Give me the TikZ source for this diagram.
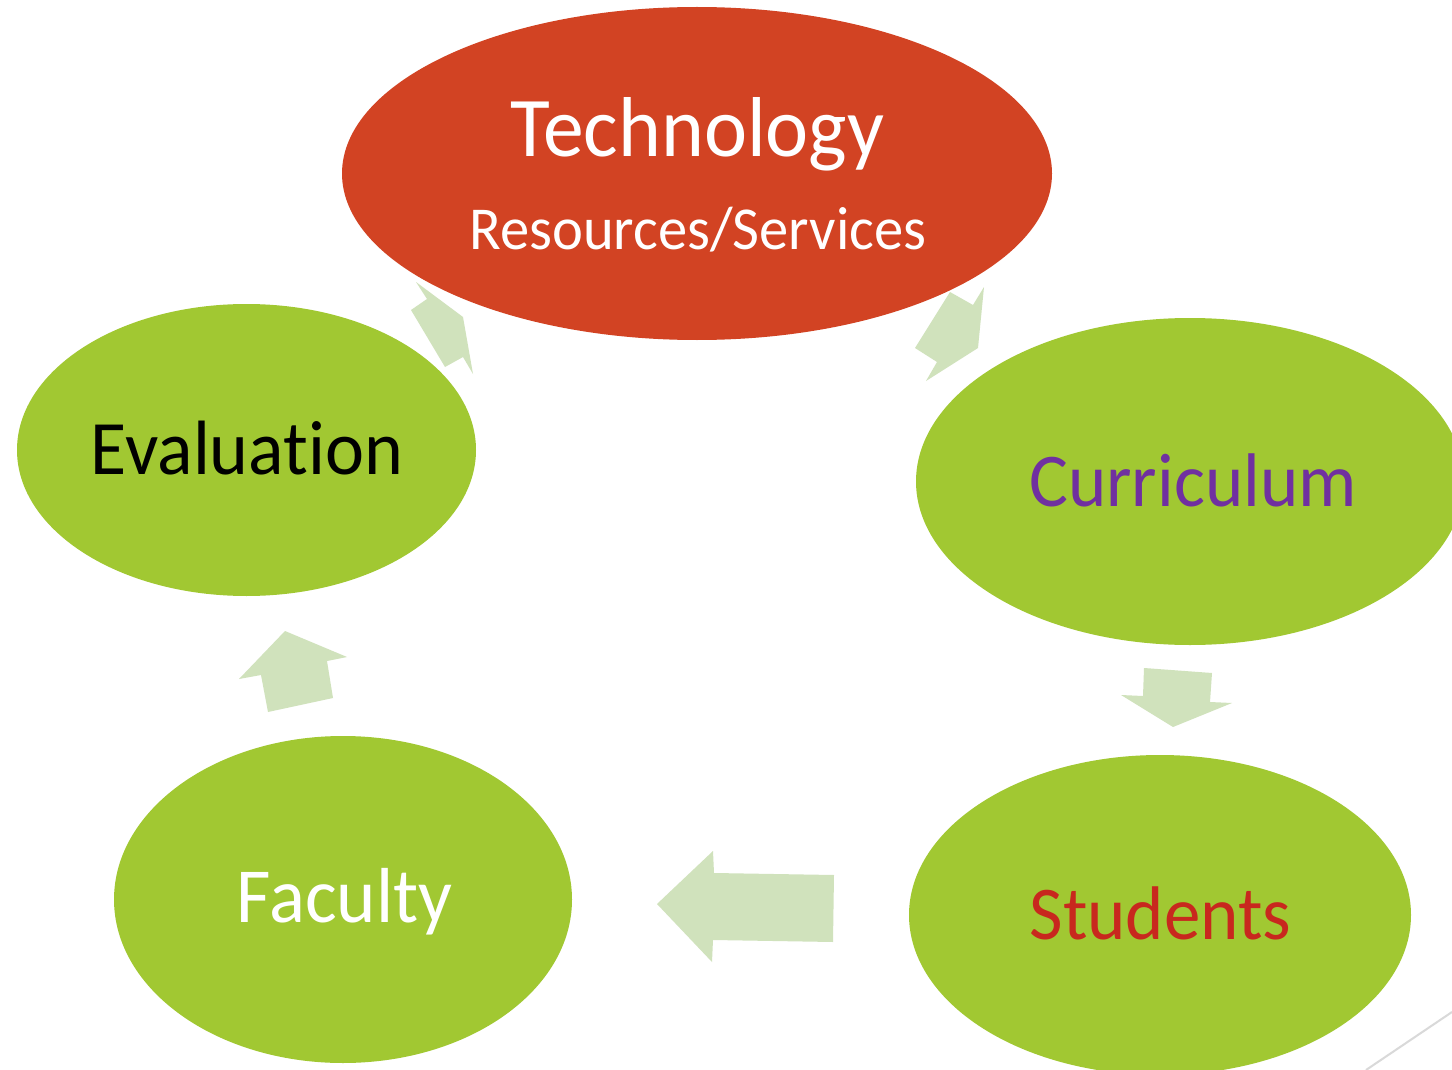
\documentclass[tikz,border=0pt]{standalone}
\usepackage{fontspec}
\setmainfont{Carlito}[FakeStretch=0.96, Ligatures=NoCommon]
\usetikzlibrary{shapes.geometric}
\definecolor{techred}{RGB}{210,67,35}
\definecolor{leafgreen}{RGB}{161,200,50}
\definecolor{arrowgreen}{RGB}{208,226,188}
\definecolor{currpurple}{RGB}{112,48,160}
\definecolor{studred}{RGB}{200,40,30}
\definecolor{linegray}{RGB}{217,217,217}
\tikzset{
  blob/.style={ellipse, fill=leafgreen, draw=none, inner sep=0pt},
  techblob/.style={ellipse, fill=techred, draw=none, inner sep=0pt},
  cyclearrow/.style={fill=arrowgreen, draw=none},
  bigtext/.style={font=\fontsize{77}{90}\selectfont, anchor=base, inner sep=0pt},
}
\begin{document}
\begin{tikzpicture}[x=1pt,y=-1pt]
\useasboundingbox (0,0) rectangle (1452,1070);
\clip (0,0) rectangle (1452,1070);
\fill[white] (0,0) rectangle (1452,1070);
% ellipses
\node[techblob, minimum width=710pt, minimum height=333pt] (tech) at (697,173.5) {};
\node[blob, minimum width=459pt, minimum height=292pt] (eval) at (246.5,450) {};
\node[blob, minimum width=548pt, minimum height=327pt] (curr) at (1190,481.5) {};
\node[blob, minimum width=502pt, minimum height=320pt] (stud) at (1160,915) {};
\node[blob, minimum width=458pt, minimum height=327pt] (fac) at (343,899.5) {};
% texts
\node[font=\fontsize{85}{100}\selectfont, anchor=base, inner sep=0pt, text=white] (techt) at (697.5,157) {Technology};
\node[font=\fontsize{61}{70}\selectfont, anchor=base, inner sep=0pt, text=white] (techs) at (698,249) {Resources/Services};
\node[bigtext, text=black] (evalt) at (247,474) {Evaluat\kern0pt ion};
\node[bigtext, font=\fontsize{76}{90}\selectfont, text=currpurple] (currt) at (1193,506) {Curriculum};
\node[bigtext, font=\fontsize{78}{90}\selectfont, text=white] (fact) at (344.5,922) {Faculty};
\node[bigtext, font=\fontsize{76}{90}\selectfont, text=studred] (studt) at (1160.5,939) {Students};
% cycle arrows
\fill[cyclearrow] (416,282) -- (427,299) -- (411,310) -- (445,367) -- (463,357) -- (473,374) -- (463,317) -- cycle;
\fill[cyclearrow] (950,292) -- (973,305) -- (984,287) -- (978,348) -- (926,381) -- (937,362) -- (915,348) -- cycle;
\fill[cyclearrow] (1144,668) -- (1212,673) -- (1210,702) -- (1232,703) -- (1173,727) -- (1121,695) -- (1143,696) -- cycle;
\fill[cyclearrow] (713,851) -- (714,873) -- (834,875) -- (833,942) -- (713,940) -- (712,962) -- (657,904) -- cycle;
\fill[cyclearrow] (285,631) -- (347,657) -- (327,661) -- (333,698) -- (268,712) -- (261,675) -- (239,679) -- cycle;
% corner line
\coordinate (la) at (1452,1012);
\coordinate (lb) at (1366,1070);
\draw[linegray, line width=2pt] (la) -- (lb);
\end{tikzpicture}
\end{document}
